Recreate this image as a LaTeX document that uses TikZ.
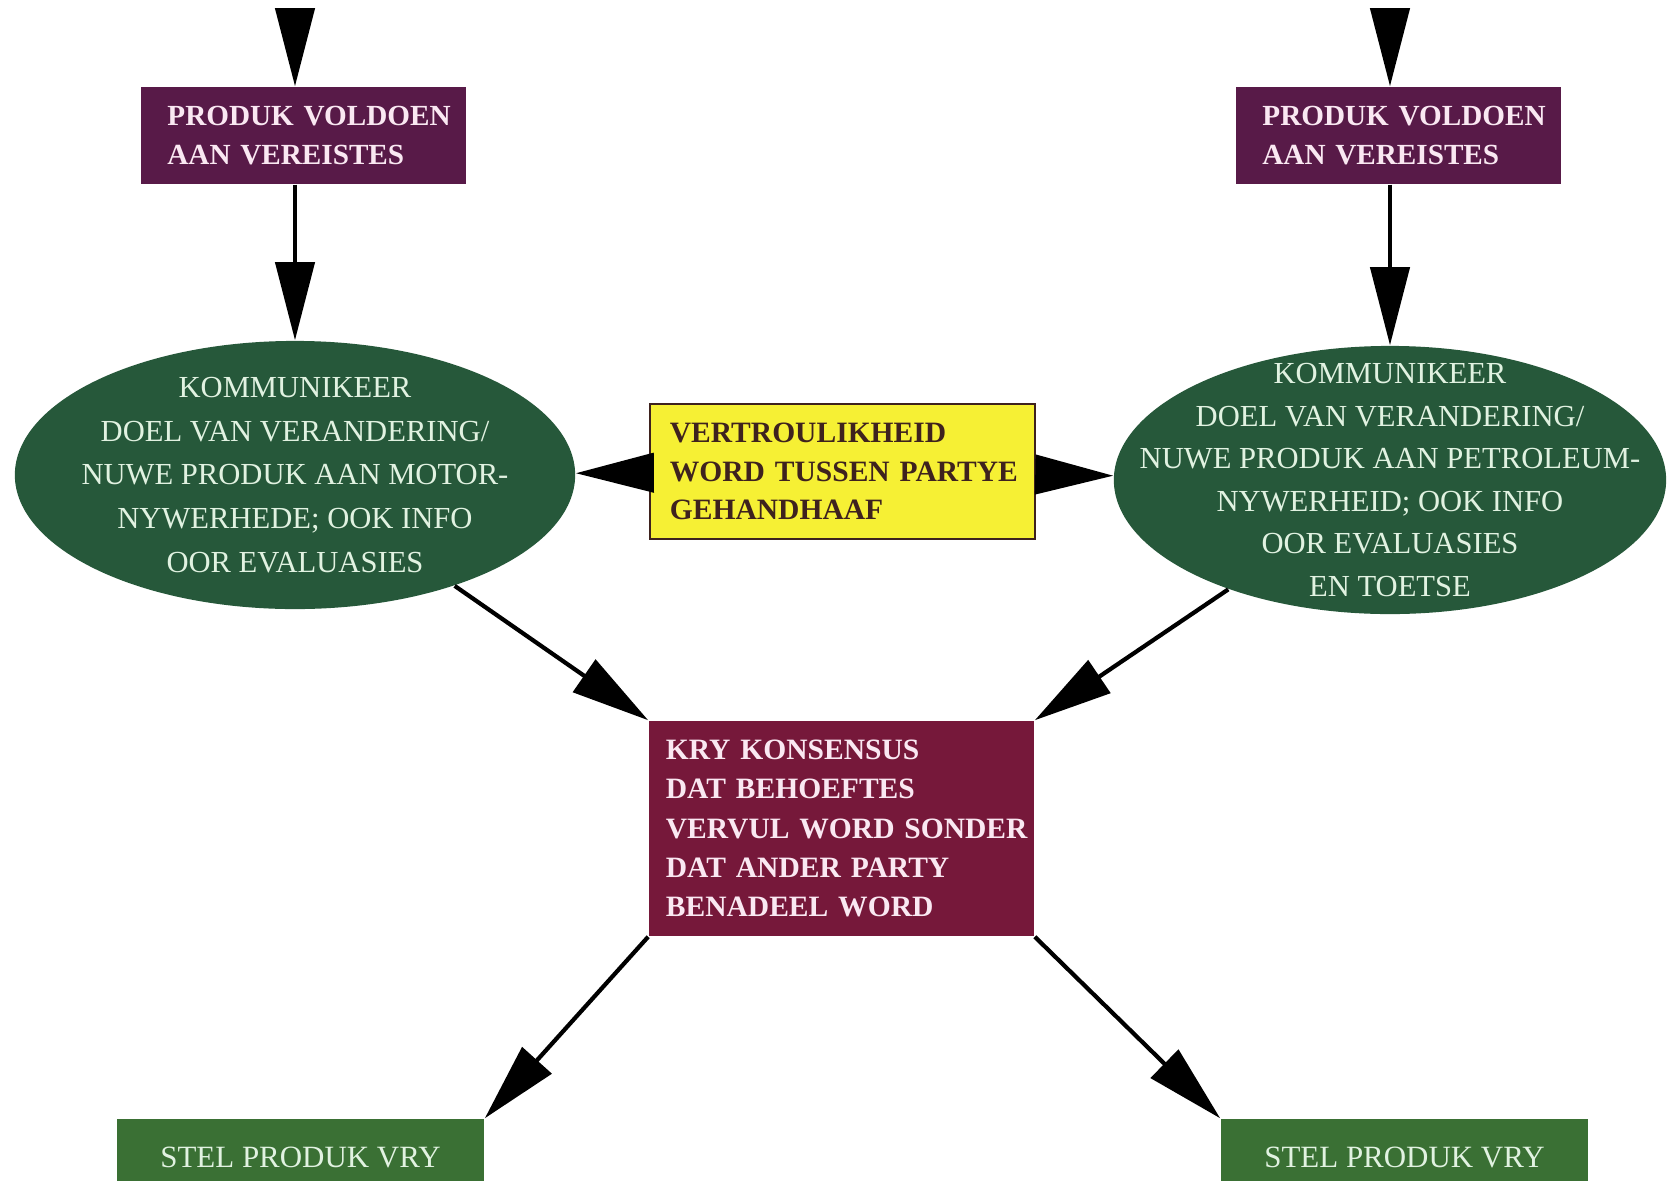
\documentclass[tikz,border=0pt]{standalone}
\usepackage{fontspec}
\setmainfont{Liberation Serif}
\usetikzlibrary{arrows.meta,shapes.geometric}
\hyphenpenalty=10000
\exhyphenpenalty=10000

\definecolor{paars}{RGB}{88,26,72}
\definecolor{wyn}{RGB}{118,24,58}
\definecolor{donkergroen}{RGB}{38,88,58}
\definecolor{gras}{RGB}{58,112,52}
\definecolor{geel}{RGB}{246,240,52}
\definecolor{bruin}{RGB}{62,34,30}
\definecolor{ligroen}{RGB}{225,242,225}
\definecolor{ligpienk}{RGB}{250,232,242}

\tikzset{
  pyl/.style={-{Triangle[length=7.8mm,width=3.9mm]}, line width=1.2pt, black},
  produkbox/.style={fill=paars, text=ligpienk, minimum height=0.97cm, text width=2.72cm,
    inner xsep=0.26cm, align=left, font=\bfseries\fontsize{8.3}{11.2}\selectfont},
  ovaal/.style={ellipse, fill=donkergroen, minimum width=5.6cm, minimum height=2.68cm, inner sep=0pt},
  ovaaltext/.style={text=ligroen, align=center, font=\fontsize{8.7}{12.4}\selectfont},
  geelbox/.style={fill=geel, draw=bruin, line width=0.6pt, text=bruin, minimum height=1.35cm,
    text width=3.45cm, inner xsep=0.2cm, align=left,
    font=\bfseries\fontsize{8.4}{11}\selectfont},
  konsbox/.style={fill=wyn, text=ligpienk, minimum height=2.15cm, text width=3.51cm,
    inner xsep=0.17cm, align=left, font=\bfseries\fontsize{8.4}{11.2}\selectfont},
  vrybox/.style={fill=gras, text=ligroen, minimum width=3.67cm, minimum height=0.76cm,
    font=\fontsize{8.8}{11}\selectfont},
}

\begin{document}
\begin{tikzpicture}[x=0.01cm,y=-0.01cm]

    \useasboundingbox (0,0) rectangle (1668,1181);

    \node[produkbox] (pl) at (303.5,135.5) {PRODUK~VOLDOEN\\AAN VEREISTES};
    \node[produkbox] (pr) at (1398.5,135.5) {PRODUK~VOLDOEN\\AAN VEREISTES};

    \node[ovaal] (lell) at (295,475) {};
    \node[ovaaltext] (lelltxt) at (lell) {KOMMUNIKEER\\DOEL VAN VERANDERING/\\NUWE PRODUK AAN MOTOR-\\NYWERHEDE; OOK INFO\\OOR EVALUASIES};
    \node[ovaal, minimum width=5.52cm] (rell) at (1390,480) {};
    \node[ovaaltext, font=\fontsize{8.7}{12.1}\selectfont] (relltxt) at (rell) {KOMMUNIKEER\\DOEL VAN VERANDERING/\\NUWE PRODUK AAN PETROLEUM-\\NYWERHEID; OOK INFO\\OOR EVALUASIES\\EN TOETSE};

    \node[geelbox] (vert) at (842.5,471.5) {VERTROULIKHEID\\WORD~TUSSEN~PARTYE\\GEHANDHAAF};

    \node[konsbox] (kry) at (841.5,828.5) {KRY KONSENSUS\\DAT BEHOEFTES\\VERVUL~WORD~SONDER\\DAT ANDER PARTY\\BENADEEL WORD};

    \node[vrybox] (vryl) at (300.5,1157) {STEL PRODUK VRY};
    \node[vrybox] (vryr) at (1404.5,1157) {STEL PRODUK VRY};

    \coordinate (bol) at (295,8);
    \coordinate (bor) at (1390,8);

    \draw[pyl] (bol) -- (bol |- pl.north);
    \draw[pyl] (bor) -- (bor |- pr.north);
    \draw[pyl] (pl.south -| lell) -- (lell.north);
    \draw[pyl] (pr.south -| rell) -- (rell.north);

    \draw[pyl] (vert) -- (lell);
    \draw[pyl] (vert) -- (rell);

    \draw[pyl] (lell) -- (kry.north west);
    \draw[pyl] (rell) -- (kry.north east);
    \draw[pyl] (kry.south west) -- (vryl.north east);
    \draw[pyl] (kry.south east) -- (vryr.north west);

\end{tikzpicture}
\end{document}
